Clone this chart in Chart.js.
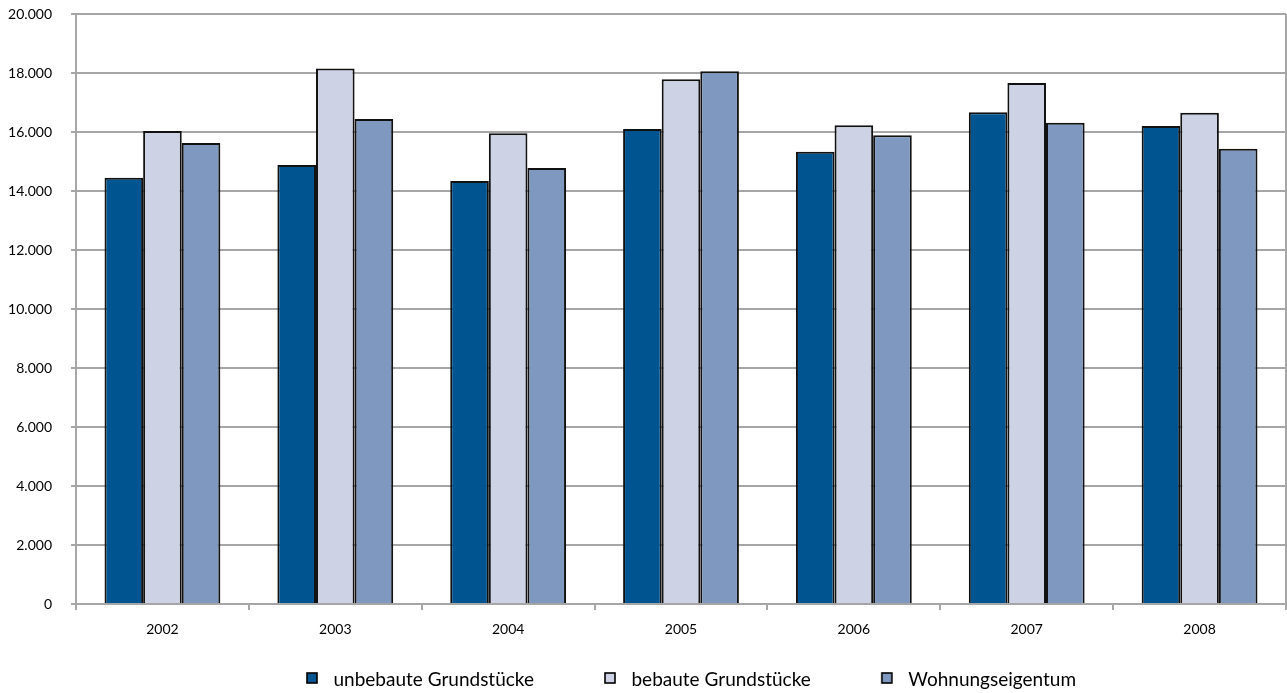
<!DOCTYPE html>
<html><head><meta charset="utf-8">
<script src="https://cdn.jsdelivr.net/npm/chart.js@4/dist/chart.umd.min.js"></script>
<style>html,body{margin:0;padding:0;background:#fff}#wrap{width:1287px;height:693px}</style>
</head><body><div id="wrap"><canvas id="c" width="1287" height="693"></canvas></div>
<script>
const categories = ['2002','2003','2004','2005','2006','2007','2008'];
const unbebaut = [14450, 14880, 14340, 16100, 15330, 16670, 16200];
const bebaut = [16030, 18150, 15960, 17790, 16230, 17660, 16650];
const wohnung = [15630, 16440, 14780, 18060, 15890, 16310, 15430];
const seriesNames = ['unbebaute Grundstücke', 'bebaute Grundstücke', 'Wohnungseigentum'];
const yTicks = [0,2000,4000,6000,8000,10000,12000,14000,16000,18000,20000];
const colors = ['#005591', '#CDD3E5', '#7F98BF'];

const fmt = v => v === 0 ? '0' : v.toLocaleString('de-DE');
const gray = '#A6A6A6';
const LEG_W = 88;
const LEG_SHIFT = 13;
function legendIcon(color) {
  const cv = document.createElement('canvas');
  cv.width = LEG_W; cv.height = 16;
  const g = cv.getContext('2d');
  g.fillStyle = color;
  g.fillRect(71, 1, 10, 10);
  g.strokeStyle = '#000'; g.lineWidth = 1.6;
  g.strokeRect(71, 1, 10, 10);
  return cv;
}
const legendPatch = {
  id: 'legendPatch',
  beforeLayout(chart) {
    const lg = chart.legend;
    if (lg && !lg._patched) {
      const f = lg.fit;
      lg.fit = function () { f.call(this); this.height = 19; };
      const d = lg.draw;
      lg.draw = function () {
        const ctx = this.ctx;
        ctx.save(); ctx.translate(LEG_SHIFT, 0);
        d.apply(this, arguments);
        ctx.restore();
      };
      lg._patched = true;
    }
  }
};
const mk = (label, data, color) => ({label, data, backgroundColor: color, borderColor: '#111', borderWidth: 2, borderSkipped: 'bottom', categoryPercentage: 0.67, barPercentage: 1.0});

new Chart(document.getElementById('c'), {
  type: 'bar',
  plugins: [legendPatch],
  data: {
    labels: categories,
    datasets: [
      mk(seriesNames[0], unbebaut, colors[0]),
      mk(seriesNames[1], bebaut, colors[1]),
      mk(seriesNames[2], wohnung, colors[2])
    ]
  },
  options: {
    responsive: false,
    animation: false,
    layout: {padding: {top: 14, right: 1, left: 0, bottom: 3.5}},
    plugins: {
      tooltip: {enabled: false},
      legend: {
        position: 'bottom',
        labels: {
          usePointStyle: true,
          pointStyleWidth: LEG_W,
          boxHeight: 12,
          padding: 0,
          color: '#000',
          font: {family: 'Lato, sans-serif', size: 19},
          generateLabels: chart => chart.data.datasets.map((d, i) => ({
            text: d.label, fillStyle: d.backgroundColor, strokeStyle: '#000', lineWidth: 0,
            pointStyle: legendIcon(d.backgroundColor), datasetIndex: i, hidden: false
          }))
        }
      }
    },
    scales: {
      x: {
        offset: true,
        grid: {
          offset: true,
          drawOnChartArea: true,
          color: c => c.type === 'tick' ? 'rgba(0,0,0,0)' : gray,
          tickColor: gray,
          tickLength: 6,
          lineWidth: 2
        },
        border: {color: gray, width: 2},
        ticks: {color: '#000', padding: 11, font: {family: 'Lato, sans-serif', size: 14}},
        afterFit: s => { s.height = 66.5; }
      },
      y: {
        min: 0, max: 20000,
        afterBuildTicks: s => { s.ticks = yTicks.map(v => ({value: v})); },
        grid: {color: gray, lineWidth: 2, tickLength: 5},
        border: {color: gray, width: 2},
        ticks: {color: '#000', padding: 19, callback: v => fmt(v), font: {family: 'Lato, sans-serif', size: 14}},
        afterFit: s => { s.width = 76; s.paddingTop = 0; s.paddingBottom = 0; }
      }
    }
  }
});
</script></body></html>
